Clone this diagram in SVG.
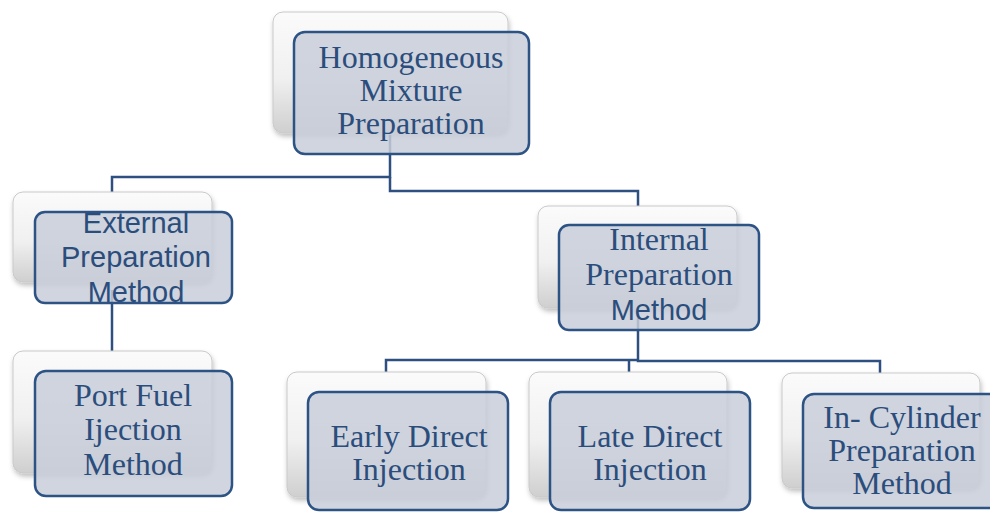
<svg xmlns="http://www.w3.org/2000/svg" width="990" height="513" viewBox="0 0 990 513">
<defs>
<linearGradient id="bg" x1="0" y1="0" x2="0" y2="1">
<stop offset="0" stop-color="#fbfbfb"/>
<stop offset="0.55" stop-color="#f0f0f0"/>
<stop offset="1" stop-color="#cfcfcf"/>
</linearGradient>
<filter id="sh" x="-10%" y="-10%" width="125%" height="130%">
<feDropShadow dx="1" dy="3" stdDeviation="2.5" flood-color="#000" flood-opacity="0.25"/>
</filter>
<style>
.back{fill:url(#bg);stroke:#c9c9c9;stroke-width:1;filter:url(#sh)}
.front{fill:#c8ced9;fill-opacity:0.85;stroke:#2d5385;stroke-width:2.5}
.con{fill:none;stroke:#2d5080;stroke-width:2.5}
.s{font-family:"Liberation Serif","Times New Roman",serif;font-size:32px;fill:#2b4d7c;text-anchor:middle}
.a{font-family:"Liberation Sans",Arial,sans-serif;font-size:29px;fill:#2b4d7c;text-anchor:middle}
</style>
</defs>
<rect width="990" height="513" fill="#ffffff"/>
<g id="connectors">
<path class="con" d="M390,135 V177 H112 V196"/>
<path class="con" d="M390,177 V191 H638 V209"/>
<path class="con" d="M112,290 V351"/>
<path class="con" d="M638,318 V361 H880 V383"/>
<path class="con" d="M638,360 H386 V381"/>
<path class="con" d="M629,360 V381"/>
</g>
<g id="node-homogeneous">
<rect class="back" x="273" y="12" width="235" height="121" rx="10"/>
<rect class="front" x="294" y="32" width="235" height="122" rx="11"/>
<text class="s" x="411" y="68">Homogeneous</text>
<text class="s" x="411" y="101">Mixture</text>
<text class="s" x="411" y="134">Preparation</text>
</g>
<g id="node-external">
<rect class="back" x="13" y="192" width="199" height="90" rx="10"/>
<rect class="front" x="35" y="212" width="197" height="91" rx="10"/>
<text class="a" x="136" y="233">External</text>
<text class="a" x="136" y="267">Preparation</text>
<text class="a" x="136" y="302">Method</text>
</g>
<g id="node-portfuel">
<rect class="back" x="13" y="351" width="199" height="122" rx="10"/>
<rect class="front" x="35" y="371" width="197" height="125" rx="11"/>
<text class="s" x="133" y="406">Port Fuel</text>
<text class="s" x="133" y="440">Ijection</text>
<text class="s" x="133" y="475">Method</text>
</g>
<g id="node-internal">
<rect class="back" x="538" y="206" width="199" height="102" rx="10"/>
<rect class="front" x="559" y="225" width="200" height="105" rx="10"/>
<text class="s" x="659" y="250">Internal</text>
<text class="s" x="659" y="285">Preparation</text>
<text class="a" x="659" y="320">Method</text>
</g>
<g id="node-early">
<rect class="back" x="287" y="372" width="199" height="125" rx="10"/>
<rect class="front" x="308" y="392" width="200" height="118" rx="11"/>
<text class="s" x="409" y="447">Early Direct</text>
<text class="s" x="409" y="480">Injection</text>
</g>
<g id="node-late">
<rect class="back" x="529" y="372" width="198" height="125" rx="10"/>
<rect class="front" x="550" y="392" width="200" height="118" rx="11"/>
<text class="s" x="650" y="447">Late Direct</text>
<text class="s" x="650" y="480">Injection</text>
</g>
<g id="node-incylinder">
<rect class="back" x="782" y="373" width="198" height="115" rx="10"/>
<rect class="front" x="803" y="394" width="200" height="114" rx="11"/>
<text class="s" x="902" y="428">In- Cylinder</text>
<text class="s" x="902" y="461">Preparation</text>
<text class="s" x="902" y="494">Method</text>
</g>
</svg>
